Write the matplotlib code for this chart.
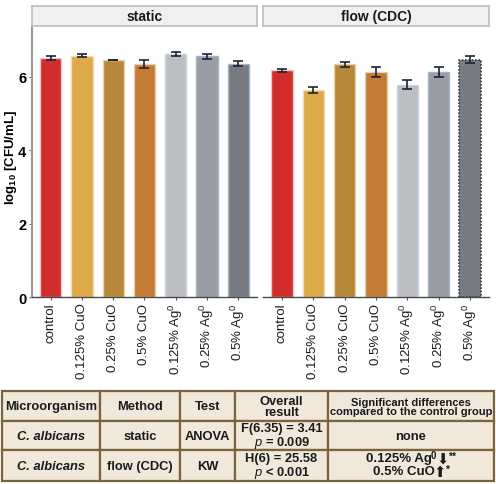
import matplotlib
matplotlib.use("Agg")
import matplotlib.pyplot as plt
from matplotlib.patches import Rectangle

plt.rcParams['font.family'] = ['Liberation Sans', 'DejaVu Sans']
plt.rcParams['mathtext.fontset'] = 'custom'
plt.rcParams['mathtext.rm'] = 'Liberation Sans'
plt.rcParams['mathtext.it'] = 'Liberation Sans:italic'
plt.rcParams['mathtext.bf'] = 'Liberation Sans:bold'

# data
categories = ['control', '0.125% CuO', '0.25% CuO', '0.5% CuO',
              '0.125% Ag$^0$', '0.25% Ag$^0$', '0.5% Ag$^0$']
static_means = [6.51, 6.58, 6.46, 6.35, 6.63, 6.56, 6.36]
static_err = [0.06, 0.05, 0.01, 0.10, 0.05, 0.07, 0.07]
flow_means = [6.18, 5.65, 6.34, 6.13, 5.79, 6.13, 6.47]
flow_err = [0.04, 0.08, 0.07, 0.13, 0.12, 0.13, 0.09]
panels = ['static', 'flow (CDC)']

colors = ['#D12D2D', '#DDAA48', '#B8883A', '#C47B34', '#BDBEC2', '#9A9DA2', '#787C81']
edges = ['#EBC9C9', '#F0DDB8', '#E4D2B0', '#E8CDB3', '#C8D4E2', '#9FB6CE', '#9FB6CE']

table_rows = [
    ['Microorganism', 'Method', 'Test', 'Overall\nresult',
     'Significant differences\ncompared to the control group'],
    ['C. albicans', 'static', 'ANOVA', 'F(6.35) = 3.41\n$\\mathbf{\\mathit{p}}$ = 0.009', 'none'],
    ['C. albicans', 'flow (CDC)', 'KW', 'H(6) = 25.58\n$\\mathbf{\\mathit{p}}$ < 0.001', None],
]
# last cell: significant groups with direction arrows and stars
sig_groups = ['0.125% Ag', '0.5% CuO']
sig_sup = ['0', '']
sig_arrow = ['\u2B07', '\u2B06']
sig_stars = ['**', '*']

W, H = 496, 485
fig = plt.figure(figsize=(W / 100, H / 100), dpi=100)

def fr(x0, y0, x1, y1):
    return [x0 / W, 1 - y1 / H, (x1 - x0) / W, (y1 - y0) / H]

axes = [fig.add_axes(fr(32, 28, 257, 298)), fig.add_axes(fr(263, 28, 489, 298))]
x = list(range(len(categories)))
for i, (ax, means, errs) in enumerate(zip(axes, [static_means, flow_means], [static_err, flow_err])):
    bars = ax.bar(x, means, width=0.68, color=colors, edgecolor=edges, linewidth=1.0, zorder=2)
    if i == 1:
        bars[-1].set_edgecolor('#2E3A4A')
        bars[-1].set_linestyle((0, (1, 1)))
        bars[-1].set_linewidth(1.2)
    ax.errorbar(x, means, yerr=errs, fmt='none', ecolor='#1C2433', elinewidth=1.2,
                capsize=3.3, capthick=1.2, zorder=3)
    ax.set_xlim(-0.6, 6.6)
    ax.set_ylim(0, 7.36)
    ax.set_xticks(x)
    ax.set_xticklabels(categories, rotation=90, fontsize=9.5, color='#1A1A1A')
    for s in ['top', 'right']:
        ax.spines[s].set_visible(False)
    ax.spines['bottom'].set_color('#4A4A4A')
    ax.spines['bottom'].set_linewidth(1.0)
    ax.tick_params(axis='x', length=2, color='#555555', pad=2)
    if i == 0:
        ax.spines['left'].set_color('#9A9A9A')
        ax.spines['left'].set_linewidth(1.5)
        ax.set_yticks([0, 2, 4, 6])
        ax.tick_params(axis='y', length=2, color='#777777', labelsize=10.5, pad=2)
        for t in ax.get_yticklabels():
            t.set_fontweight('bold')
        ax.set_ylabel(r'$\mathbf{log_{10}}$ [CFU/mL]', fontsize=9.5, fontweight='bold')
        ax.yaxis.set_label_coords(-0.056, 0.52)
    else:
        ax.spines['left'].set_visible(False)
        ax.set_yticks([])

# facet strips
strips = [(32, 257), (263, 489)]
for (x0, x1), name in zip(strips, panels):
    sax = fig.add_axes(fr(x0, 7, x1, 27))
    sax.set_xticks([])
    sax.set_yticks([])
    sax.set_facecolor('#F0F0F0')
    for s in sax.spines.values():
        s.set_color('#BDBDBD')
        s.set_linewidth(1.2)
    sax.text(0.5, 0.5, name, ha='center', va='center', fontsize=10, fontweight='bold',
             color='#1A1A1A', transform=sax.transAxes)

# statistics table
tax = fig.add_axes([0, 0, 1, 1])
tax.set_xlim(0, W)
tax.set_ylim(H, 0)
tax.axis('off')
col_edges = [2, 100, 180, 235, 328, 494]
row_edges = [392, 422, 451, 482]
for r, row in enumerate(table_rows):
    for c, txt in enumerate(row):
        x0, x1 = col_edges[c], col_edges[c + 1]
        y0, y1 = row_edges[r], row_edges[r + 1]
        tax.add_patch(Rectangle((x0, y0), x1 - x0, y1 - y0, facecolor='#EFE8DB',
                                edgecolor='#7A6440', linewidth=1.6))
        if txt is None:
            continue
        style = 'italic' if (c == 0 and r > 0) else 'normal'
        size = 8.0 if (r == 0 and c == 4) else 9.3
        tax.text((x0 + x1) / 2, (y0 + y1) / 2 + 0.5, txt, ha='center', va='center',
                 fontsize=size, fontweight='bold', fontstyle=style, color='#1A1A1A',
                 linespacing=0.95)

# last cell built piece by piece so the arrows can be heavy
renderer = fig.canvas.get_renderer()
cx = (col_edges[4] + col_edges[5]) / 2
line_y = [row_edges[2] + 8.5, row_edges[2] + 21.5]
for g, sup, arr, st, yy in zip(sig_groups, sig_sup, sig_arrow, sig_stars, line_y):
    pieces = [(g, dict(fontsize=9.5, fontweight='bold'), 0, -1.0),
              (sup, dict(fontsize=7, fontweight='bold'), -3.0, 0.5),
              (arr, dict(fontsize=10.5, family='DejaVu Sans'), 0.3, -1.0),
              (st, dict(fontsize=7.5, fontweight='bold'), -2.5, 0)]
    arts = []
    total = 0
    for s, kw, dy, gap in pieces:
        if not s:
            continue
        t = tax.text(0, yy + dy, s, ha='left', va='center', color='#1A1A1A', **kw)
        w = t.get_window_extent(renderer).width + gap
        arts.append((t, w))
        total += w
    xs = cx - total / 2
    for t, w in arts:
        t.set_x(xs)
        xs += w

fig.savefig('out.png', dpi=100)
